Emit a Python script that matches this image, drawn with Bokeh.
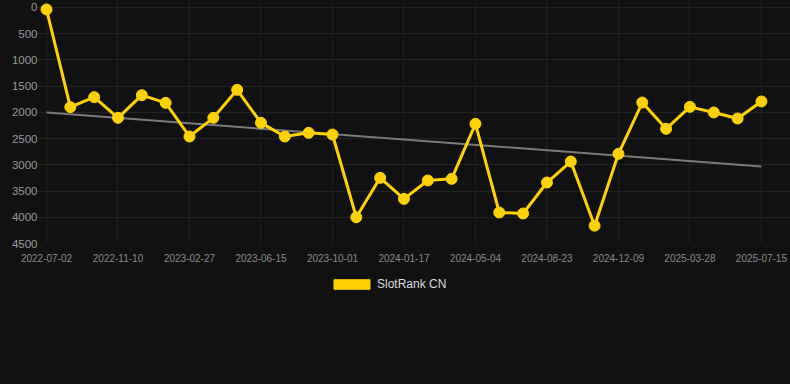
from bokeh.plotting import figure
from bokeh.layouts import column
from bokeh.models import Range1d, FixedTicker, Legend, LegendItem, ColumnDataSource
from bokeh.embed import file_html
from bokeh.resources import INLINE

tick_labels = ["2022-07-02", "2022-11-10", "2023-02-27", "2023-06-15", "2023-10-01",
               "2024-01-17", "2024-05-04", "2024-08-23", "2024-12-09", "2025-03-28",
               "2025-07-15"]
ranks = [38, 1901, 1710, 2104, 1672, 1818, 2460, 2104, 1570, 2200,
         2460, 2390, 2422, 4000, 3248, 3649, 3299, 3267, 2218, 3909,
         3928, 3337, 2937, 4160, 2790, 1812, 2313, 1895, 2002, 2117, 1792]
trend_start = 2002
trend_end = 3030
series_name = "SlotRank CN"

idx = list(range(len(ranks)))
src = ColumnDataSource(data=dict(x=idx, y=ranks))

BG = "#111111"
YELLOW = "#FFD200"

p = figure(frame_width=753, frame_height=243, output_backend="svg", toolbar_location=None,
           x_range=Range1d(-0.378, 31.22), y_range=Range1d(4500, -133),
           min_border_left=37, min_border_right=0, min_border_top=0,
           min_border_bottom=27)
p.background_fill_color = BG
p.border_fill_color = BG
p.outline_line_color = None

xt = list(range(0, len(ranks), 3))
yt = list(range(0, 4501, 500))
p.xgrid.ticker = FixedTicker(ticks=xt)
p.ygrid.ticker = FixedTicker(ticks=yt)
p.xgrid.grid_line_color = "#202020"
p.ygrid.grid_line_color = "#222222"

p.xaxis.ticker = FixedTicker(ticks=xt)
p.xaxis.major_label_overrides = {i * 3: lab for i, lab in enumerate(tick_labels)}
p.yaxis.ticker = FixedTicker(ticks=yt)
for ax in (p.xaxis, p.yaxis):
    ax.axis_line_color = None
    ax.major_tick_line_color = None
    ax.minor_tick_line_color = None
    ax.major_tick_out = 0
    ax.major_tick_in = 0
    ax.major_label_text_font = "Liberation Sans"
p.xaxis.major_label_text_font_size = "10px"
p.xaxis.major_label_text_color = "#8a8a8a"
p.xaxis.major_label_standoff = 10
p.yaxis.major_label_text_font_size = "11.5px"
p.yaxis.major_label_text_color = "#9a9a9a"
p.yaxis.major_label_standoff = 0

p.line(x=[idx[0], idx[-1]], y=[trend_start, trend_end], line_color="#7a7a7a", line_width=2)
p.line(x="x", y="y", source=src, line_color=YELLOW, line_width=3)
p.scatter(x="x", y="y", source=src, size=11, fill_color=YELLOW, line_color=YELLOW)

# legend strip below the chart
lg = figure(width=790, height=114, output_backend="svg", toolbar_location=None,
            x_range=Range1d(0, 1), y_range=Range1d(0, 1),
            min_border_left=0, min_border_right=0, min_border_top=0, min_border_bottom=0)
lg.background_fill_color = BG
lg.border_fill_color = BG
lg.outline_line_color = None
lg.axis.visible = False
lg.grid.visible = False
swatch_src = ColumnDataSource(data=dict(l=[5], r=[6], t=[6], b=[5]))
swatch = lg.quad(left="l", right="r", top="t", bottom="b", source=swatch_src,
                 fill_color=YELLOW, line_color=YELLOW)
legend = Legend(items=[LegendItem(label=series_name, renderers=[swatch])],
                orientation="horizontal", location=(292, 93),
                glyph_width=45, glyph_height=12, label_standoff=3,
                label_text_font="Liberation Sans", label_text_font_size="12px",
                label_text_color="#dddddd", background_fill_alpha=0,
                border_line_color=None, margin=0, padding=4, spacing=10)
lg.add_layout(legend)

layout = column(p, lg, spacing=0, styles={"background-color": BG})

open("out.html", "w").write(file_html(layout, INLINE))
